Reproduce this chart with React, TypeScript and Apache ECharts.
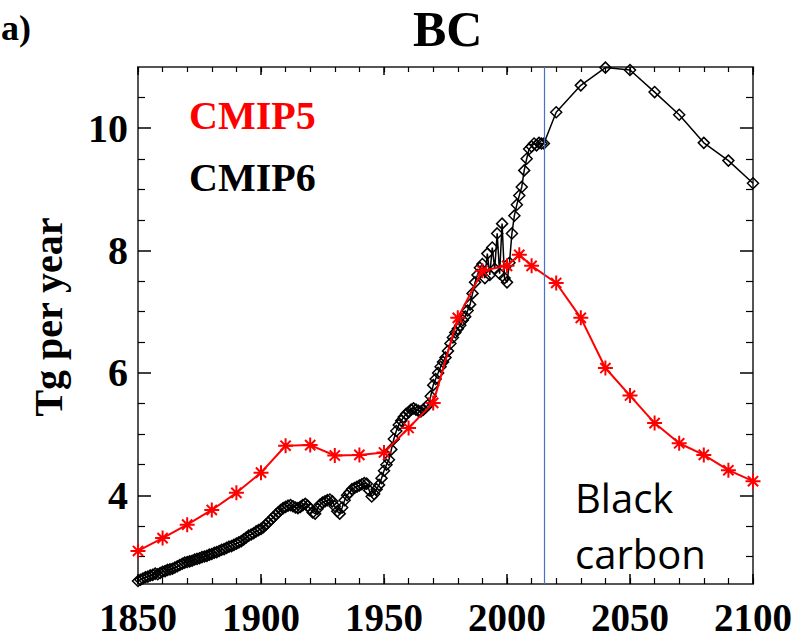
import React, { useEffect, useRef } from "react";
import * as echarts from "echarts";

const histYears: number[] = [];
for (let y = 1850; y <= 2014; y++) histYears.push(y);

const cmip6Hist: number[] = [
  2.60, 2.62, 2.64, 2.66, 2.67, 2.69, 2.70, 2.72, 2.71, 2.73,
  2.75, 2.76, 2.78, 2.79, 2.80, 2.82, 2.84, 2.86, 2.88, 2.90,
  2.91, 2.92, 2.93, 2.95, 2.96, 2.97, 2.99, 3.00, 3.01, 3.03,
  3.04, 3.06, 3.07, 3.09, 3.11, 3.12, 3.14, 3.16, 3.17, 3.19,
  3.21, 3.23, 3.25, 3.28, 3.31, 3.34, 3.36, 3.38, 3.41, 3.43,
  3.45, 3.48, 3.52, 3.56, 3.60, 3.64, 3.68, 3.72, 3.76, 3.79,
  3.81, 3.83, 3.84, 3.82, 3.80, 3.79, 3.81, 3.84, 3.86, 3.83,
  3.78, 3.72, 3.70, 3.78, 3.85, 3.88, 3.90, 3.92, 3.93, 3.90,
  3.82, 3.74, 3.70, 3.80, 3.92, 4.00, 4.05, 4.10, 4.12, 4.14,
  4.16, 4.18, 4.20, 4.19, 4.08, 3.98, 4.02, 4.10, 4.17, 4.28,
  4.40, 4.50, 4.58, 4.75, 4.92, 5.05, 5.15, 5.22, 5.28, 5.33,
  5.36, 5.40, 5.42, 5.40, 5.38, 5.37, 5.40, 5.44, 5.48, 5.62,
  5.80, 5.90, 6.00, 6.10, 6.18, 6.25, 6.36, 6.48, 6.58, 6.66,
  6.72, 6.78, 6.86, 6.92, 7.02, 7.12, 7.30, 7.48, 7.60, 7.72,
  7.78, 7.55, 7.95, 7.60, 8.05, 7.70, 8.28, 7.62, 8.44, 7.55,
  7.48, 7.80, 8.28, 8.57, 8.75, 8.90, 9.04, 9.31, 9.50, 9.66,
  9.70, 9.75, 9.72, 9.76, 9.75,
];

const futYears6 = [2015, 2020, 2030, 2040, 2050, 2060, 2070, 2080, 2090, 2100];
const cmip6Fut = [9.75, 10.26, 10.70, 10.99, 10.95, 10.59, 10.22, 9.76, 9.47, 9.10];

const cmip5Years = [
  1850, 1860, 1870, 1880, 1890, 1900, 1910, 1920, 1930, 1940, 1950, 1960, 1970,
  1980, 1990, 2000, 2005, 2010, 2020, 2030, 2040, 2050, 2060, 2070, 2080, 2090, 2100,
];
const cmip5Values = [
  3.09, 3.30, 3.52, 3.76, 4.04, 4.37, 4.81, 4.82, 4.65, 4.66, 4.70, 5.10, 5.51,
  6.90, 7.67, 7.75, 7.93, 7.75, 7.47, 6.90, 6.08, 5.63, 5.18, 4.85, 4.66, 4.41, 4.23,
];

const yMajorTicks = [4, 6, 8, 10];
const yMinorTicks = [3, 3.5, 4.5, 5, 5.5, 6.5, 7, 7.5, 8.5, 9, 9.5, 10.5];
const markerYear = 2015;

const SERIF = "'Liberation Serif', 'Times New Roman', serif";
const AXIS_GRAY = "#555555";
const TICK = "#000000";

export default function App() {
  const ref = useRef<HTMLDivElement>(null);
  useEffect(() => {
    document.body.style.margin = "0";
    if (!ref.current) return;
    const chart = echarts.init(ref.current, undefined, { renderer: "svg" });
    const cmip6Data = [
      ...histYears.map((y, i) => [y, cmip6Hist[i]]),
      ...futYears6.map((y, i) => [y, cmip6Fut[i]]),
    ];
    const cmip5Data = cmip5Years.map((y, i) => [y, cmip5Values[i]]);
    const star =
      "path://M5,0L5,10M0,5L10,5M1.6,1.6L8.4,8.4M1.6,8.4L8.4,1.6";

    const xBase = {
      type: "value",
      min: 1850,
      max: 2100,
      splitLine: { show: false },
      gridIndex: 0,
    };
    const yBase = {
      type: "value",
      min: 2.55,
      max: 11,
      splitLine: { show: false },
      gridIndex: 0,
    };

    chart.setOption({
      animation: false,
      backgroundColor: "#ffffff",
      grid: { left: 138, right: 45, top: 67, bottom: 57, containLabel: false },
      xAxis: [
        {
          ...xBase,
          position: "bottom",
          interval: 50,
          axisLine: { show: true, lineStyle: { color: AXIS_GRAY, width: 2 } },
          axisTick: { show: true, inside: true, length: 10, lineStyle: { color: TICK, width: 1.5 } },
          axisLabel: {
            show: true,
            margin: 15,
            lineHeight: 36,
            color: "#000",
            fontFamily: SERIF,
            fontWeight: "bold",
            fontSize: 39,
            formatter: (v: number) => String(v),
          },
        },
        {
          ...xBase,
          position: "bottom",
          interval: 10,
          axisLine: { show: false },
          axisTick: { show: true, inside: true, length: 6, lineStyle: { color: TICK, width: 1.2 } },
          axisLabel: { show: false },
        },
        {
          ...xBase,
          position: "top",
          interval: 50,
          axisLine: { show: true, lineStyle: { color: AXIS_GRAY, width: 2 } },
          axisTick: { show: true, inside: true, length: 8, lineStyle: { color: TICK, width: 1.5 } },
          axisLabel: { show: false },
        },
        {
          ...xBase,
          position: "top",
          interval: 10,
          axisLine: { show: false },
          axisTick: { show: true, inside: true, length: 5, lineStyle: { color: TICK, width: 1.2 } },
          axisLabel: { show: false },
        },
      ],
      yAxis: [
        {
          ...yBase,
          position: "left",
          axisLine: { show: true, lineStyle: { color: AXIS_GRAY, width: 2 } },
          axisTick: {
            show: true,
            inside: true,
            length: 13,
            customValues: yMajorTicks,
            lineStyle: { color: TICK, width: 1.5 },
          },
          axisLabel: {
            show: true,
            customValues: yMajorTicks,
            margin: 10,
            color: "#000",
            fontFamily: SERIF,
            fontWeight: "bold",
            fontSize: 40,
          },
        },
        {
          ...yBase,
          position: "left",
          axisLine: { show: false },
          axisTick: {
            show: true,
            inside: true,
            length: 7,
            customValues: yMinorTicks,
            lineStyle: { color: TICK, width: 1.2 },
          },
          axisLabel: { show: false },
        },
        {
          ...yBase,
          position: "right",
          axisLine: { show: true, lineStyle: { color: AXIS_GRAY, width: 2 } },
          axisTick: {
            show: true,
            inside: true,
            length: 13,
            customValues: yMajorTicks,
            lineStyle: { color: TICK, width: 1.5 },
          },
          axisLabel: { show: false },
        },
        {
          ...yBase,
          position: "right",
          axisLine: { show: false },
          axisTick: {
            show: true,
            inside: true,
            length: 7,
            customValues: yMinorTicks,
            lineStyle: { color: TICK, width: 1.2 },
          },
          axisLabel: { show: false },
        },
      ],
      series: [
        {
          name: "CMIP6",
          type: "line",
          xAxisIndex: 0,
          yAxisIndex: 0,
          data: cmip6Data,
          symbol: "diamond",
          symbolSize: 11,
          showAllSymbol: true,
          lineStyle: { color: "#000", width: 1.5 },
          itemStyle: { color: "rgba(0,0,0,0)", borderColor: "#000", borderWidth: 1.5 },
          markLine: {
            silent: true,
            symbol: ["none", "none"],
            label: { show: false },
            lineStyle: { color: "#4472c4", width: 1.2, type: "solid" },
            data: [{ xAxis: markerYear }],
          },
          z: 2,
        },
        {
          name: "CMIP5",
          type: "line",
          xAxisIndex: 0,
          yAxisIndex: 0,
          data: cmip5Data,
          symbol: star,
          symbolSize: 15,
          showAllSymbol: true,
          lineStyle: { color: "#ff0000", width: 2 },
          itemStyle: { color: "#ff0000", borderColor: "#ff0000", borderWidth: 2 },
          z: 3,
        },
      ],
      graphic: [
        {
          type: "text",
          left: 413,
          top: 4,
          style: { text: "BC", fill: "#000", font: `bold 50px ${SERIF}` },
        },
        {
          type: "text",
          x: 1,
          y: 28,
          style: {
            text: "a)",
            fill: "#000",
            font: `bold 36px ${SERIF}`,
            align: "left",
            verticalAlign: "middle",
          },
        },
        {
          type: "text",
          x: 48,
          y: 317,
          rotation: Math.PI / 2,
          style: {
            text: "Tg per year",
            fill: "#000",
            font: `bold 40px ${SERIF}`,
            align: "center",
            verticalAlign: "middle",
          },
        },
        {
          type: "text",
          x: 189,
          y: 115,
          style: {
            text: "CMIP5",
            fill: "#ff0000",
            font: `bold 40px ${SERIF}`,
            align: "left",
            verticalAlign: "middle",
          },
        },
        {
          type: "text",
          x: 189,
          y: 177,
          style: {
            text: "CMIP6",
            fill: "#000",
            font: `bold 40px ${SERIF}`,
            align: "left",
            verticalAlign: "middle",
          },
        },
        {
          type: "text",
          x: 575,
          y: 497,
          style: {
            text: "Black",
            fill: "#000",
            font: `40px 'Open Sans', sans-serif`,
            align: "left",
            verticalAlign: "middle",
          },
        },
        {
          type: "text",
          x: 575,
          y: 553,
          style: {
            text: "carbon",
            fill: "#000",
            font: `40px 'Open Sans', sans-serif`,
            align: "left",
            verticalAlign: "middle",
          },
        },
      ],
    });
    return () => chart.dispose();
  }, []);
  return <div ref={ref} style={{ width: 798, height: 641 }} />;
}
